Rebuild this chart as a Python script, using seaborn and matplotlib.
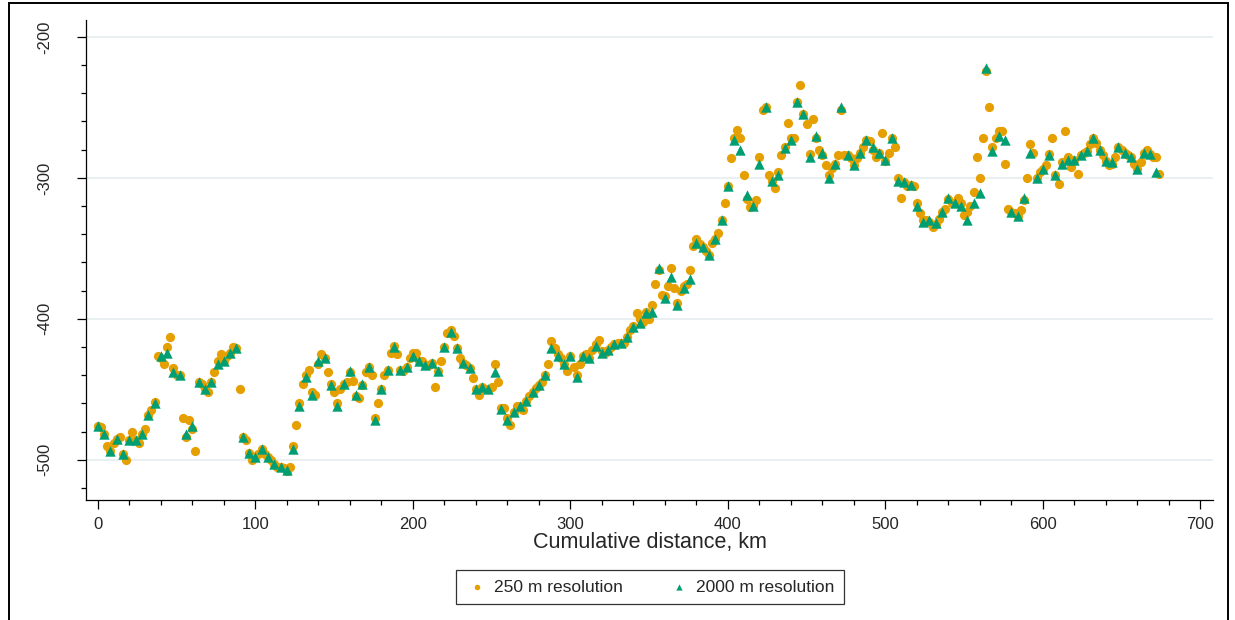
import numpy as np
import pandas as pd
import matplotlib
matplotlib.use("Agg")
import matplotlib.pyplot as plt
from matplotlib.patches import Rectangle
from matplotlib.ticker import MultipleLocator
import seaborn as sns

## Profile values, depth along the track
## 250 m series, sampled every 2 km from 0 km
depth_250 = [
    -476, -477, -482, -490, -494, -488, -485, -484, -496, -500,
    -486, -480, -486, -488, -482, -478, -468, -465, -459, -426,
    -428, -432, -420, -413, -435, -440, -440, -470, -484, -472,
    -478, -494, -445, -446, -450, -452, -445, -438, -430, -425,
    -430, -426, -424, -420, -421, -450, -484, -486, -495, -500,
    -498, -496, -492, -496, -498, -500, -503, -505, -505, -506,
    -508, -505, -490, -475, -460, -446, -440, -436, -452, -454,
    -432, -425, -428, -438, -446, -452, -460, -450, -446, -445,
    -438, -444, -455, -456, -447, -438, -434, -440, -470, -460,
    -450, -440, -436, -424, -419, -425, -436, -437, -434, -428,
    -424, -424, -430, -430, -433, -433, -431, -448, -437, -430,
    -420, -410, -408, -412, -421, -428, -431, -433, -435, -442,
    -450, -454, -448, -450, -450, -448, -432, -445, -463, -463,
    -470, -475, -466, -462, -462, -465, -458, -455, -452, -449,
    -447, -445, -440, -432, -416, -421, -425, -428, -432, -437,
    -426, -434, -440, -432, -426, -425, -428, -422, -418, -415,
    -423, -424, -422, -420, -418, -417, -417, -417, -413, -408,
    -405, -396, -400, -402, -395, -400, -390, -375, -365, -383,
    -384, -377, -364, -378, -389, -380, -377, -375, -365, -348,
    -343, -347, -349, -352, -355, -346, -343, -339, -330, -318,
    -306, -286, -272, -266, -272, -298, -315, -321, -320, -316,
    -285, -252, -250, -298, -302, -307, -296, -284, -278, -261,
    -272, -272, -246, -234, -255, -262, -283, -258, -272, -280,
    -284, -291, -298, -293, -290, -284, -252, -284, -284, -286,
    -291, -286, -282, -278, -273, -274, -280, -285, -282, -268,
    -288, -282, -272, -278, -300, -314, -303, -306, -305, -306,
    -318, -325, -330, -330, -331, -335, -333, -329, -324, -322,
    -315, -318, -318, -314, -318, -326, -324, -320, -310, -285,
    -300, -272, -224, -250, -278, -272, -267, -267, -290, -322,
    -324, -325, -327, -323, -316, -300, -276, -282, -300, -296,
    -294, -291, -283, -272, -298, -304, -289, -267, -285, -292,
    -287, -297, -284, -282, -281, -276, -272, -275, -280, -284,
    -288, -291, -290, -285, -278, -280, -282, -284, -285, -290,
    -294, -289, -282, -280, -283, -285, -285, -297,
]

## 2000 m series, sampled every 4 km from 0 km
depth_2000 = [
    -476, -482, -494, -485, -496, -486, -486, -482, -468, -460,
    -426, -424, -438, -440, -482, -476, -445, -450, -445, -432,
    -430, -424, -421, -484, -495, -498, -492, -498, -503, -505,
    -507, -492, -462, -441, -454, -430, -428, -447, -462, -446,
    -437, -454, -446, -434, -472, -450, -436, -420, -436, -434,
    -426, -430, -433, -431, -437, -420, -409, -421, -431, -435,
    -450, -448, -450, -438, -464, -472, -466, -462, -458, -452,
    -447, -440, -421, -426, -432, -426, -441, -426, -428, -419,
    -424, -422, -418, -417, -413, -406, -403, -396, -395, -364,
    -385, -370, -390, -378, -372, -346, -349, -355, -343, -330,
    -306, -273, -280, -312, -320, -290, -250, -302, -298, -279,
    -273, -246, -255, -285, -270, -282, -300, -290, -250, -284,
    -291, -282, -273, -278, -282, -287, -272, -302, -303, -305,
    -320, -331, -330, -332, -324, -314, -318, -320, -330, -318,
    -311, -222, -281, -270, -273, -324, -327, -314, -282, -300,
    -294, -284, -298, -290, -287, -287, -284, -281, -272, -280,
    -288, -289, -278, -282, -285, -294, -282, -283, -296,
]

km_250 = np.arange(len(depth_250)) * 2.0
km_2000 = np.arange(len(depth_2000)) * 4.0

df_250 = pd.DataFrame({"km": km_250, "depth": depth_250})
df_2000 = pd.DataFrame({"km": km_2000, "depth": depth_2000})

## Style
sns.set_style("white")
plt.rcParams["font.family"] = ["Liberation Sans", "DejaVu Sans"]
plt.rcParams["axes.unicode_minus"] = False

orange = "#E69F00"
green = "#009E73"

fig = plt.figure(figsize=(12.35, 6.2), dpi=100)
ax = fig.add_axes([86 / 1235, 1 - 500 / 620, (1213 - 86) / 1235, (500 - 20) / 620])

sns.scatterplot(data=df_250, x="km", y="depth", ax=ax, color=orange, marker="o",
                s=44, linewidth=0, label="250 m resolution", legend=False, zorder=3)
sns.scatterplot(data=df_2000, x="km", y="depth", ax=ax, color=green, marker="^",
                s=56, linewidth=0, label="2000 m resolution", legend=False, zorder=4)

## Axes limits, ticks and grid
ax.set_xlim(-7.5, 708)
ax.set_ylim(-528.5, -188)
ax.xaxis.set_major_locator(MultipleLocator(100))
ax.xaxis.set_minor_locator(MultipleLocator(20))
ax.set_yticks([-500, -400, -300, -200])
ax.yaxis.set_minor_locator(MultipleLocator(20))
ax.tick_params(axis="both", which="major", length=6.5, width=0.9, color="black",
               direction="out", labelsize=12)
ax.tick_params(axis="both", which="minor", length=3.6, width=0.9, color="black",
               direction="out")
ax.tick_params(axis="x", which="major", pad=6)
ax.tick_params(axis="y", which="major", pad=18)
ax.tick_params(left=True, bottom=True, which="both")
for lab in ax.get_yticklabels():
    lab.set_rotation(90)
    lab.set_va("center")

ax.grid(axis="y", which="major", color="#e4eef0", linewidth=1.2)
ax.grid(axis="x", visible=False)
ax.set_axisbelow(True)

for side in ["top", "right"]:
    ax.spines[side].set_visible(False)
for side in ["left", "bottom"]:
    ax.spines[side].set_color("black")
    ax.spines[side].set_linewidth(0.9)

ax.set_xlabel("Cumulative distance, km", fontsize=15.5, labelpad=0)
ax.set_ylabel("")

## Legend under the plot, boxed
handles, labels = ax.get_legend_handles_labels()
leg = fig.legend(handles, labels, loc="center", bbox_to_anchor=(650 / 1235, 1 - 587 / 620),
                 ncol=2, frameon=True, fancybox=False, edgecolor="black", fontsize=12.5,
                 markerscale=0.6, handletextpad=0.3, columnspacing=2.6,
                 borderpad=0.55, handlelength=1.3)
leg.get_frame().set_linewidth(0.9)

## Outer frame of the graph region
fig.patches.append(Rectangle((9 / 1235, -0.05), (1228 - 9) / 1235, 1.05 - 3 / 620,
                             transform=fig.transFigure, fill=False,
                             edgecolor="black", linewidth=1.4))

fig.savefig("out.png", dpi=100)
